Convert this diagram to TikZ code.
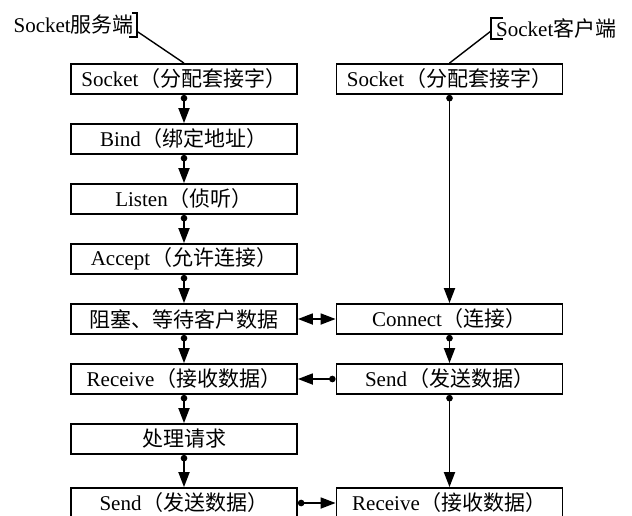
\documentclass[tikz,border=0pt]{standalone}
\usepackage{fontspec}
\setmainfont{Liberation Serif}
\newfontfamily\cjk{Noto Sans CJK SC}
\usetikzlibrary{arrows.meta}
\newcommand{\zh}[1]{{\cjk #1}}
\newcommand{\pa}[1]{\hspace{1pt}\zh{（#1）}}

\begin{document}
\begin{tikzpicture}[x=1pt,y=-1pt,
  every node/.style={font=\fontsize{21}{24}\selectfont},
  box/.style={draw,line width=1.8pt,minimum width=226pt,minimum height=30pt,inner sep=0pt},
  tag/.style={inner sep=0pt},
  flow/.style={line width=1.8pt,{Circle[length=6.5pt]}-{Triangle[length=15pt,width=11pt]}},
  twoway/.style={line width=1.8pt,{Triangle[length=15pt,width=11pt]}-{Triangle[length=15pt,width=11pt]}}]
  \useasboundingbox (0,0) rectangle (632,515);

  % Server side, one step per row
  \node[box] (ssock)  at (184,79)  {Socket\pa{分配套接字}};
  \node[box] (bind)   at (184,139) {Bind\pa{绑定地址}};
  \node[box] (listen) at (184,199) {Listen\pa{侦听}};
  \node[box] (accept) at (184,259) {Accept\pa{允许连接}};
  \node[box] (block)  at (184,319) {\zh{阻塞、等待客户数据}};
  \node[box] (srecv)  at (184,379) {Receive\pa{接收数据}};
  \node[box] (proc)   at (184,439) {\zh{处理请求}};
  \node[box] (ssend)  at (184,503) {Send\pa{发送数据}};

  % Client side
  \node[box] (csock) at (449.5,79)  {Socket\pa{分配套接字}};
  \node[box] (conn)  at (449.5,319) {Connect\pa{连接}};
  \node[box] (csend) at (449.5,379) {Send\pa{发送数据}};
  \node[box] (crecv) at (449.5,503) {Receive\pa{接收数据}};

  % Side labels with their brackets
  \node[tag,anchor=east] (stag) at (134,25) {Socket\zh{服务端}};
  \node[tag,anchor=west] (ctag) at (496,28) {Socket\zh{客户端}};
  \draw[line width=1.4pt] (132,13) -- (137,13) -- (137,37) -- (129,37);
  \draw[line width=1.4pt] (503,18) -- (491,18) -- (491,39) -- (503,39);
  \coordinate (sleg) at (138,32);
  \coordinate (cleg) at (491,31);
  \draw[line width=1.4pt] (sleg) -- (ssock.north);
  \draw[line width=1.4pt] (cleg) -- (csock.north);

  % Vertical flow
  \foreach \a/\b in {ssock/bind,bind/listen,listen/accept,accept/block,
                     block/srecv,srecv/proc,proc/ssend,
                     csock/conn,conn/csend,csend/crecv}
    \draw[flow] (\a) -- (\b);

  % Between the two sides
  \draw[twoway] (block) -- (conn);
  \draw[flow] (csend) -- (srecv);
  \draw[flow] (ssend) -- (crecv);
\end{tikzpicture}
\end{document}
